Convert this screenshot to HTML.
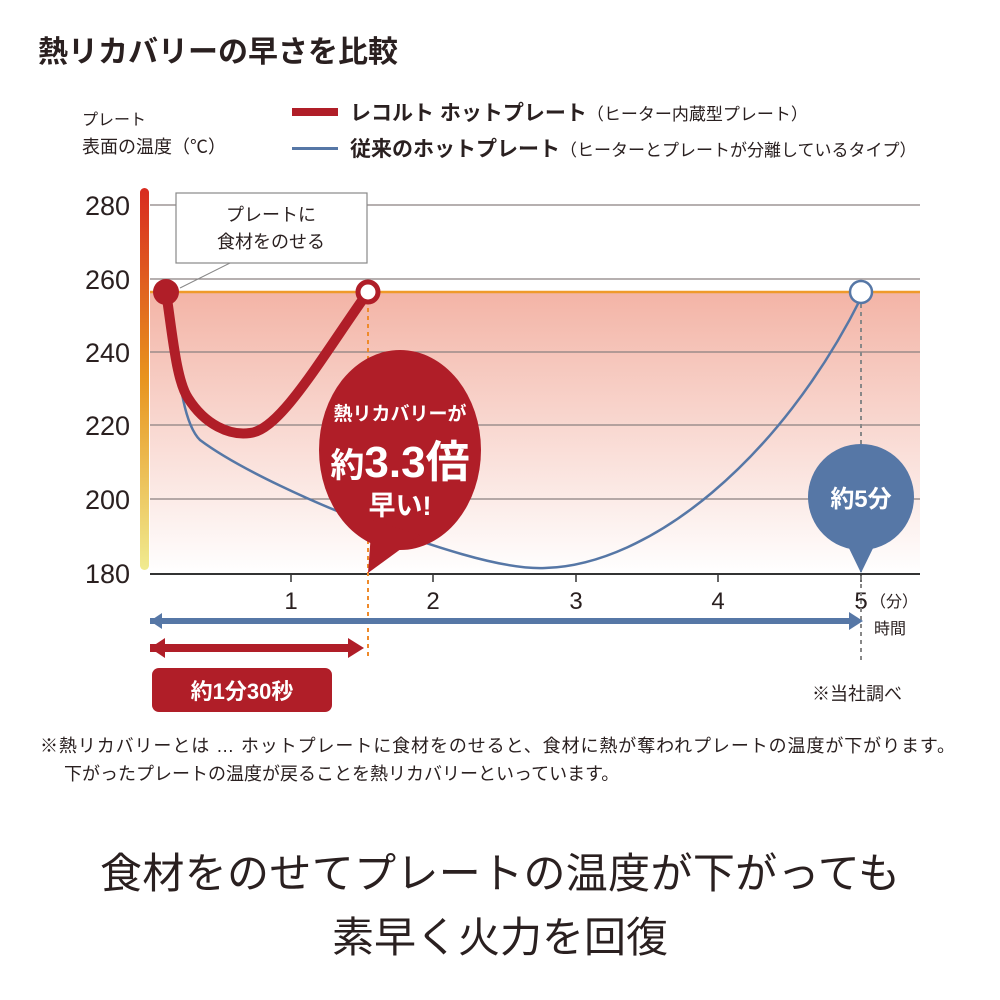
<!DOCTYPE html>
<html><head><meta charset="utf-8"><style>
body{margin:0;background:#fff}
svg{display:block;font-family:"Liberation Sans","Noto Sans CJK JP",sans-serif}
</style></head><body>
<svg width="1000" height="1000" viewBox="0 0 1000 1000">
<defs>
<linearGradient id="pink" x1="0" y1="0" x2="0" y2="1"><stop offset="0" stop-color="#f3b4a6"/><stop offset="1" stop-color="#fff"/></linearGradient>
<linearGradient id="bar" x1="0" y1="0" x2="0" y2="1"><stop offset="0" stop-color="#d82b20"/><stop offset="0.5" stop-color="#e8941e"/><stop offset="1" stop-color="#f0eb90"/></linearGradient>
</defs>
<text x="38" y="62" font-size="30" font-weight="bold" fill="#2a2020">熱リカバリーの早さを比較</text>
<text x="82" y="125" font-size="16" fill="#2a2020">プレート</text>
<text x="82" y="153" font-size="18" fill="#2a2020">表面の温度（℃）</text>
<rect x="292" y="108" width="46" height="8" fill="#b01e28"/>
<rect x="292" y="147" width="46" height="3" fill="#5677a6"/>
<text x="350" y="120" font-size="21" fill="#2a2020"><tspan font-weight="bold">レコルト ホットプレート</tspan><tspan font-size="17">（ヒーター内蔵型プレート）</tspan></text>
<text x="350" y="156" font-size="21" fill="#2a2020"><tspan font-weight="bold">従来のホットプレート</tspan><tspan font-size="17">（ヒーターとプレートが分離しているタイプ）</tspan></text>
<rect x="150" y="292" width="770" height="282" fill="url(#pink)"/>
<g stroke="#8a8080" stroke-width="1.3">
<line x1="150" y1="205" x2="920" y2="205"/><line x1="150" y1="279" x2="920" y2="279"/><line x1="150" y1="352" x2="920" y2="352"/><line x1="150" y1="425" x2="920" y2="425"/><line x1="150" y1="499" x2="920" y2="499"/>
</g>
<line x1="150" y1="292" x2="920" y2="292" stroke="#ef9a2a" stroke-width="2.5"/>
<rect x="140" y="188" width="9" height="382" rx="4.5" fill="url(#bar)"/>
<g font-size="27" fill="#2a2020" text-anchor="end">
<text x="130" y="215">280</text><text x="130" y="289">260</text><text x="130" y="362">240</text><text x="130" y="435">220</text><text x="130" y="509">200</text><text x="130" y="583">180</text>
</g>
<line x1="150" y1="574" x2="920" y2="574" stroke="#333" stroke-width="2"/>
<g stroke="#333" stroke-width="1.5"><line x1="291" y1="574" x2="291" y2="582"/><line x1="433" y1="574" x2="433" y2="582"/><line x1="576" y1="574" x2="576" y2="582"/><line x1="718" y1="574" x2="718" y2="582"/><line x1="861" y1="574" x2="861" y2="582"/></g>
<g font-size="24" fill="#2a2020" text-anchor="middle"><text x="291" y="609">1</text><text x="433" y="609">2</text><text x="576" y="609">3</text><text x="718" y="609">4</text><text x="861" y="609">5</text></g>
<text x="870" y="607" font-size="16" fill="#2a2020">（分）</text>
<text x="874" y="634" font-size="16" fill="#2a2020">時間</text>
<line x1="368" y1="300" x2="368" y2="658" stroke="#ef8a2a" stroke-width="2" stroke-dasharray="4,4"/>
<line x1="861" y1="304" x2="861" y2="660" stroke="#888" stroke-width="2" stroke-dasharray="4,4"/>
<path d="M170,300 C178,360 180,420 200,440 C240,470 320,505 360,520 C430,545 500,570 545,568 C650,565 780,460 861,298" fill="none" stroke="#5677a6" stroke-width="2.5"/>
<path d="M166,292 C172,330 176,380 188,398 C205,425 230,436 250,433 C280,430 320,360 368,292" fill="none" stroke="#b01e28" stroke-width="10" stroke-linecap="round"/>
<circle cx="166" cy="292" r="13" fill="#b01e28"/>
<circle cx="368" cy="292" r="10" fill="#fff" stroke="#b01e28" stroke-width="5"/>
<circle cx="861" cy="292" r="11" fill="#fff" stroke="#5677a6" stroke-width="2.5"/>
<rect x="176" y="193" width="191" height="70" fill="#fff" stroke="#888" stroke-width="1.2"/>
<polyline points="180,288 230,263 240,263" fill="none" stroke="#888" stroke-width="1"/>
<text x="271" y="221" font-size="18" fill="#2a2020" text-anchor="middle">プレートに</text>
<text x="271" y="248" font-size="18" fill="#2a2020" text-anchor="middle">食材をのせる</text>
<ellipse cx="400" cy="450" rx="81" ry="100" fill="#b01e28"/>
<path d="M372,520 L368,573 L420,535 Z" fill="#b01e28"/>
<text x="400" y="420" font-size="19" fill="#fff" text-anchor="middle" font-weight="bold">熱リカバリーが</text>
<text x="400" y="477" font-size="44" fill="#fff" text-anchor="middle" font-weight="bold"><tspan font-size="34">約</tspan>3.3倍</text>
<text x="400" y="515" font-size="27" fill="#fff" text-anchor="middle" font-weight="bold">早い!</text>
<ellipse cx="861" cy="497" rx="53" ry="53" fill="#5677a6"/>
<path d="M845,540 L861,573 L877,540 Z" fill="#5677a6"/>
<text x="861" y="507" font-size="24" fill="#fff" text-anchor="middle" font-weight="bold">約5分</text>
<rect x="150" y="618" width="700" height="6" fill="#5677a6"/>
<path d="M150,621 L162,613 L162,629 Z M863,621 L849,612 L849,630 Z" fill="#5677a6"/>
<rect x="150" y="644" width="200" height="8" fill="#b01e28"/>
<path d="M150,648 L165,638 L165,658 Z M364,648 L348,638 L348,658 Z" fill="#b01e28"/>
<rect x="152" y="668" width="180" height="44" rx="7" fill="#b01e28"/>
<text x="242" y="699" font-size="22" fill="#fff" text-anchor="middle" font-weight="bold">約1分30秒</text>
<text x="812" y="700" font-size="18" fill="#2a2020">※当社調べ</text>
<text x="40" y="752" font-size="18" fill="#2a2020" textLength="915">※熱リカバリーとは … ホットプレートに食材をのせると、食材に熱が奪われプレートの温度が下がります。</text>
<text x="64" y="780" font-size="18" fill="#2a2020">下がったプレートの温度が戻ることを熱リカバリーといっています。</text>
<text x="500" y="888" font-size="42" fill="#2a2020" text-anchor="middle" textLength="800">食材をのせてプレートの温度が下がっても</text>
<text x="500" y="952" font-size="42" fill="#2a2020" text-anchor="middle">素早く火力を回復</text>
</svg>
</body></html>
